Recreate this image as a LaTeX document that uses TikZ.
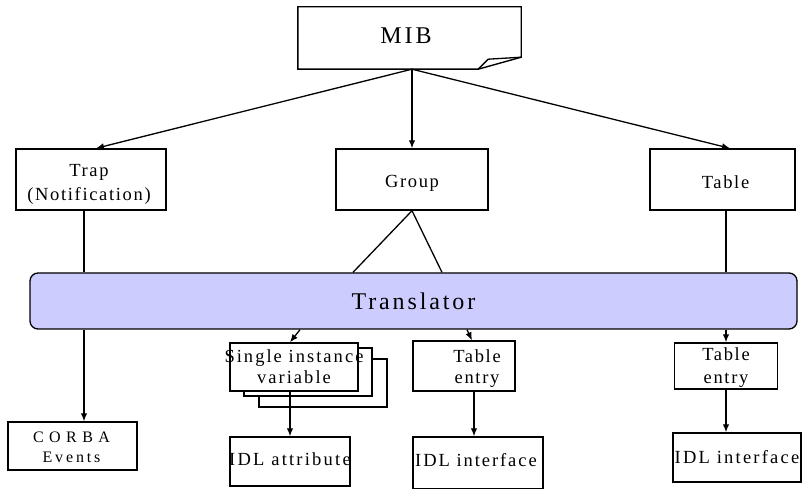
\documentclass[tikz,border=0pt]{standalone}
\usepackage{fontspec}
\setmainfont{Liberation Serif}
\newfontfamily\spA[LetterSpace=9]{Liberation Serif}
\newfontfamily\spB[LetterSpace=11]{Liberation Serif}
\newfontfamily\spC[LetterSpace=12]{Liberation Serif}
\newfontfamily\spD[LetterSpace=10.5]{Liberation Serif}
\newfontfamily\spE[LetterSpace=18]{Liberation Serif}
\newfontfamily\spF[LetterSpace=34]{Liberation Serif}
\newfontfamily\spT[LetterSpace=12]{Liberation Serif}
\usetikzlibrary{arrows.meta}
\definecolor{transfill}{HTML}{CCCCFF}

\tikzset{
  box/.style={draw, line width=1.4pt, fill=white, inner sep=0pt},
  lbl/.style={font=\spA\fontsize{18.5}{21}\selectfont, align=center, inner sep=0pt},
  biglbl/.style={font=\spT\fontsize{24}{28}\selectfont, inner sep=0pt},
  link/.style={line width=1.3pt},
  arr/.style={link, -{Latex[length=8pt,width=6.5pt]}}
}

\begin{document}
\begin{tikzpicture}[x=1pt, y=-1pt]
\useasboundingbox (0,0) rectangle (804,489);

% --- MIB document (folded corner) ---
\node[inner sep=0pt, minimum width=223pt, minimum height=62pt,
      label={[biglbl, xshift=-3.5pt, yshift=2pt]center:MIB}] (mib) at (409.5,38) {};
\draw[line width=1.4pt]
  (mib.north west) -- (mib.north east) -- ([yshift=12pt]mib.south east)
  -- ([xshift=-43pt]mib.south east) -- (mib.south west) -- cycle;
\draw[line width=1.3pt]
  ([xshift=-43pt]mib.south east) -- ([xshift=-33pt,yshift=10pt]mib.south east)
  -- ([yshift=12pt]mib.south east);
\coordinate (mibout) at ([xshift=2.5pt]mib.south);

% --- first level ---
\node[box, minimum width=150pt, minimum height=61pt,
      label={[lbl, font=\spA\fontsize{18.5}{24}\selectfont, xshift=-2pt, yshift=-5pt]center:Trap\\(Notification)}]
      (trap) at (91,179.5) {};
\node[box, minimum width=152pt, minimum height=61pt,
      label={[lbl, yshift=-4.2pt]center:Group}] (group) at (412,179.5) {};
\node[box, minimum width=145pt, minimum height=61pt,
      label={[lbl, xshift=3pt, yshift=-2.5pt]center:Table}] (table) at (722.5,179.5) {};

\draw[arr] (mibout) -- ([xshift=5pt]trap.north);
\draw[arr] (mibout) -- (group.north);
\draw[arr] (mibout) -- ([xshift=7.5pt]table.north);

% --- translator bar ---
\node[draw, line width=1.3pt, fill=transfill, rounded corners=8pt,
      minimum width=767pt, minimum height=56pt, inner sep=0pt,
      label={[biglbl]center:Translator}] (tr) at (413.5,301) {};

% connectors between first level and translator
\coordinate (trapx) at (84,0);
\coordinate (tablex) at (726,0);
\draw[link] (trap.south -| trapx) -- (tr.north -| trapx);
\draw[link] (table.south -| tablex) -- (tr.north -| tablex);
\path (tr.north -| group.south) ++(-59,0) coordinate (gleft);
\path (tr.north -| group.south) ++(30,0) coordinate (gright);
\draw[link] (gleft) -- (group.south) -- (gright);

% --- second level ---
\node[box, minimum width=128pt, minimum height=48pt] (sgl3) at (323,383) {};
\node[box, minimum width=128pt, minimum height=48pt] (sgl2) at (308,372) {};
\node[box, minimum width=128pt, minimum height=48pt,
      label={[lbl, font=\spB\fontsize{18.5}{21}\selectfont, yshift=0.8pt]center:Single instance\\variable}] (sgl) at (294,367) {};

\node[box, minimum width=102pt, minimum height=50pt,
      label={[lbl, xshift=13pt, yshift=-2.2pt]center:Table\\entry}]
      (entM) at (464,366) {};
\node[box, minimum width=103pt, minimum height=46pt,
      label={[lbl, yshift=-1.7pt, font=\spA\fontsize{18.5}{22.6}\selectfont]center:Table\\entry}]
      (entR) at (726,366) {};

\node[box, minimum width=129pt, minimum height=48pt,
      label={[inner sep=0pt, align=center, font=\fontsize{16}{20}\selectfont, yshift=-1.7pt, xshift=-1pt]center:{\spF CORBA}\\{\spE Events}}]
      (corba) at (72.5,446) {};

% --- third level ---
\node[box, minimum width=120pt, minimum height=49pt,
      label={[lbl, font=\spC\fontsize{18.5}{21}\selectfont, yshift=2pt]center:IDL attribute}] (idlA) at (290,461.5) {};
\node[box, minimum width=130pt, minimum height=52pt,
      label={[lbl, font=\spD\fontsize{18.5}{21}\selectfont, yshift=3.3pt, xshift=-2pt]center:IDL interface}] (idlM) at (478,463) {};
\node[box, minimum width=128pt, minimum height=49pt,
      label={[lbl, font=\spC\fontsize{18.5}{21}\selectfont]center:IDL interface}] (idlR) at (737,457.5) {};

% --- connectors below the translator ---
\coordinate (attrx) at (290,0);
\coordinate (entx) at (474,0);
\draw[arr] (tr.south -| trapx) -- (corba.north -| trapx);
\path (tr.south -| sgl.north) ++(6,0) coordinate (sglin);
\draw[arr] (sglin) -- ([xshift=-4pt]sgl.north);
\path (tr.south -| entM.north) ++(3,0) coordinate (entin);
\draw[arr] (entin) -- ([xshift=8pt]entM.north);
\draw[arr] (tr.south -| tablex) -- (entR.north -| tablex);

\draw[arr] (sgl.south -| attrx) -- (idlA.north -| attrx);
\draw[arr] (entM.south -| entx) -- (idlM.north -| entx);
\draw[arr] (entR.south -| tablex) -- (idlR.north -| tablex);
\end{tikzpicture}
\end{document}
